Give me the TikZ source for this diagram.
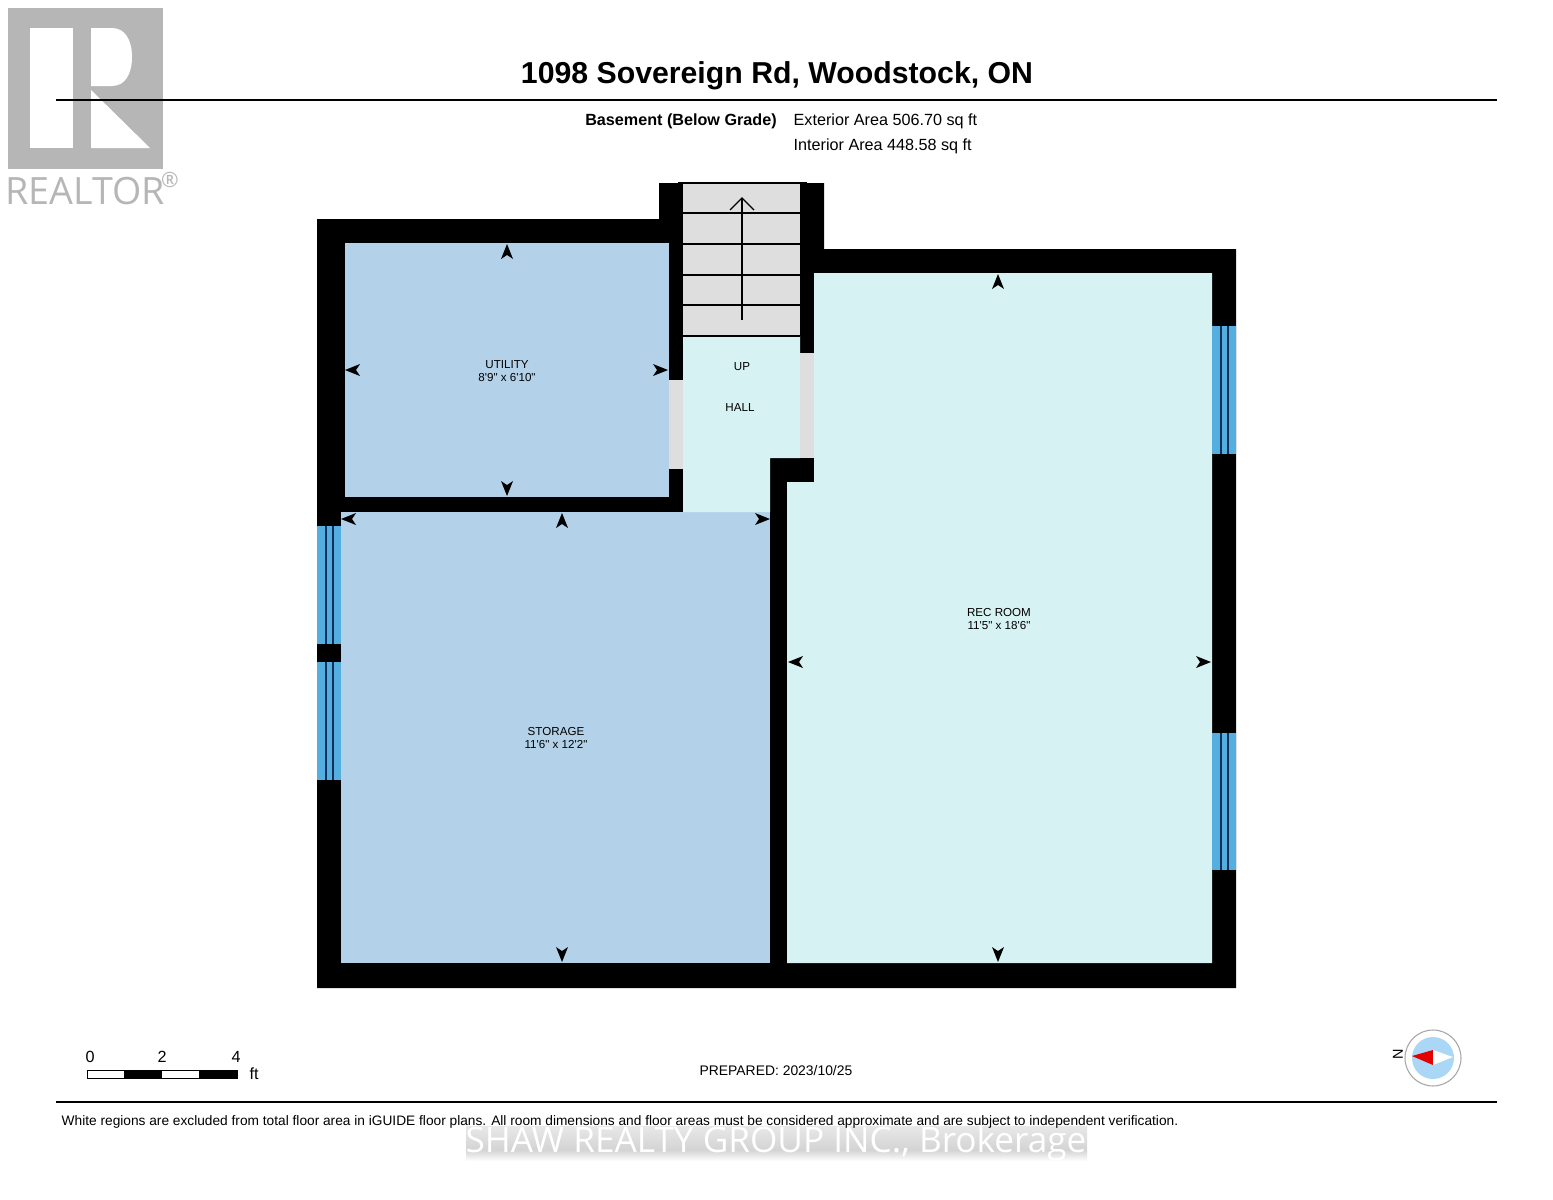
\documentclass[tikz,border=0pt]{standalone}
\usepackage{fontspec}
\newfontfamily\plainsans{Liberation Sans}
\newfontfamily\wmsans{Open Sans}
\definecolor{roomblue}{HTML}{B3D1E8}
\definecolor{roomcyan}{HTML}{D7F2F3}
\definecolor{glass}{HTML}{55AEE0}
\definecolor{mullion}{HTML}{12305A}
\definecolor{stairgrey}{HTML}{DEDEDE}
\definecolor{logogrey}{HTML}{B6B6B6}
\definecolor{dial}{HTML}{AAD7F5}
\tikzset{
  lbl/.style={inner sep=0pt,font=\plainsans\fontsize{3.3}{3.9}\selectfont,align=center},
  sub/.style={inner sep=0pt,font=\plainsans\fontsize{4.6}{5.2}\selectfont},
}
\newcommand{\dimhead}[3]{\fill[shift={(#1,#2)},rotate=#3] (0,0) -- (-15,-6) -- (-11,0) -- (-15,6) -- cycle;}
\begin{document}
\begin{tikzpicture}[x=0.01cm,y=-0.01cm]
\useasboundingbox (0,0) rectangle (1553,1200);

% logo
\fill[logogrey] (8,8) rectangle (163,169);
\fill[white] (30,28) rectangle (73,148);
\fill[white] (91,28) -- (112,28) .. controls (125,28) and (132,40) .. (132,57) .. controls (132,74) and (125,86) .. (112,86) -- (91,86) -- cycle;
\fill[white] (91,90) -- (150,148) -- (91,148) -- cycle;
\node[inner sep=0pt,text=logogrey,font=\wmsans\fontsize{10.7}{12}\selectfont] (realtor) at (85,191) {REALTOR};
\node[inner sep=0pt,text=logogrey,font=\wmsans\fontsize{6}{7}\selectfont] (regmark) at (170,180) {\textregistered};

% header
\node[inner sep=0pt,font=\plainsans\bfseries\fontsize{8.6}{10}\selectfont] (title) at (777,76) {1098 Sovereign Rd, Woodstock, ON};
\draw[line width=0.7pt] (56,100) -- (1497,100);
\node[sub,font=\plainsans\bfseries\fontsize{4.6}{5.2}\selectfont] (level) at (681,121) {Basement (Below Grade)};
\node[sub,anchor=west] (extarea) at (793,121) {Exterior Area 506.70 sq ft};
\node[sub,anchor=west] (intarea) at (793,146) {Interior Area 448.58 sq ft};

% walls
\fill (317,219) -- (659,219) -- (659,183) -- (824,183) -- (824,249) -- (1236,249) -- (1236,988) -- (317,988) -- cycle;

% rooms
\fill[roomblue] (345,243) rectangle (669,497);
\fill[roomblue] (341,512) rectangle (770,963);
\fill[roomcyan] (814,273) -- (1212,273) -- (1212,963) -- (787,963) -- (787,482) -- (814,482) -- cycle;
\fill[roomcyan] (683,336) -- (800,336) -- (800,458) -- (770,458) -- (770,512) -- (683,512) -- cycle;
\fill[stairgrey] (669,380) rectangle (683,469);
\fill[stairgrey] (800,353) rectangle (814,458);

% stairs
\fill[stairgrey] (683,183) rectangle (800,336);
\draw[line width=0.4pt] (678,183) -- (807,183);
\foreach \y in {213,244,275,305,336} \draw[line width=0.4pt] (683,\y) -- (800,\y);
\draw[line width=0.4pt] (742,320) -- (742,198);
\draw[line width=0.4pt] (730,210) -- (742,198) -- (754,210);

% windows
\foreach \ya/\yb in {526/644,662/780} {
  \fill[glass] (317,\ya) rectangle (341,\yb);
  \draw[mullion,line width=0.3pt] (326,\ya) -- (326,\yb) (333,\ya) -- (333,\yb);
}
\foreach \ya/\yb in {326/454,733/870} {
  \fill[glass] (1212,\ya) rectangle (1236,\yb);
  \draw[mullion,line width=0.3pt] (1221,\ya) -- (1221,\yb) (1228,\ya) -- (1228,\yb);
}

% dimension heads
\foreach \x/\y/\a in {507/244/90,507/496/-90,345/370/180,668/370/0,341/519/180,770/519/0,562/513/90,562/962/-90,998/274/90,998/962/-90,788/662/180,1211/662/0} {
  \dimhead{\x}{\y}{\a}
}

% room labels
\node[lbl] (utility) at (507,371) {UTILITY\\8'9" x 6'10"};
\node[lbl] (storage) at (556,738) {STORAGE\\11'6" x 12'2"};
\node[lbl] (recroom) at (999,619) {REC ROOM\\11'5" x 18'6"};
\node[lbl] (up) at (742,367) {UP};
\node[lbl] (hall) at (740,408) {HALL};

% scale bar
\draw[line width=0.2pt] (87,1070) rectangle (237,1078);
\fill (124,1070) rectangle (162,1078);
\fill (199,1070) rectangle (237,1078);
\foreach \x/\t in {90/0,162/2,236/4} \node[sub] (scale\t) at (\x,1057) {\t};
\node[sub] (scaleft) at (254,1074) {ft};

% compass
\draw[gray!70,fill=white,line width=0.3pt] (1433,1058) circle (28);
\fill[dial] (1433,1058) circle (21);
\fill[red!90!black] (1412,1056) -- (1433,1050) -- (1433,1065) -- cycle;
\fill[white] (1433,1050) -- (1453,1057) -- (1433,1065) -- cycle;
\node[sub,font=\plainsans\fontsize{4.1}{4.8}\selectfont,rotate=90] (north) at (1398,1054) {N};

% watermark
\shade[top color=black!9,bottom color=black!17] (466,1126) rectangle (1087,1150);
\shade[top color=black!17,bottom color=white] (466,1150) rectangle (1087,1161);
\node[inner sep=0pt,text=white,font=\wmsans\fontsize{10}{12}\selectfont] (watermark) at (776,1143) {SHAW REALTY GROUP INC., Brokerage};

% footer
\node[sub,font=\plainsans\fontsize{3.95}{5}\selectfont] (prepared) at (776,1071) {PREPARED: 2023/10/25};
\draw[line width=0.5pt] (56,1102) -- (1497,1102);
\node[sub,anchor=west,font=\plainsans\fontsize{3.9}{5}\selectfont] (notice) at (61,1122) {White regions are excluded from total floor area in iGUIDE floor plans. All room dimensions and floor areas must be considered approximate and are subject to independent verification.};
\end{tikzpicture}
\end{document}
